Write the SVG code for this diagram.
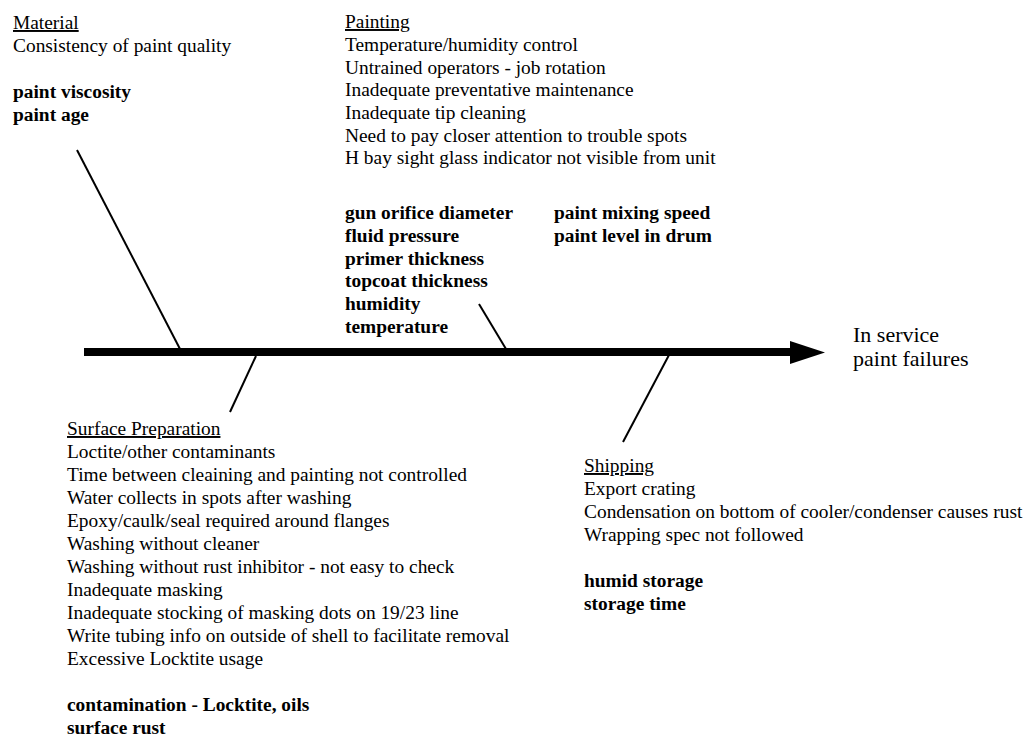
<svg xmlns="http://www.w3.org/2000/svg" width="1026" height="746" viewBox="0 0 1026 746">
<style>
text{font-family:"Liberation Serif","Times New Roman",serif;font-size:19.4px;fill:#000}
.h{text-decoration:underline}
.b{font-weight:bold}
.eff{font-size:22px}
.bone{stroke:#000;stroke-width:2;fill:none}
</style>
<rect width="1026" height="746" fill="#fff"/>
<g id="connectors">
<line x1="84" y1="352" x2="792" y2="352" stroke="#000" stroke-width="8"/>
<polygon points="790,341 825,352.5 790,364" fill="#000"/>
<line class="bone" x1="77" y1="150" x2="180" y2="349"/>
<line class="bone" x1="479" y1="304" x2="506" y2="349"/>
<line class="bone" x1="256" y1="356" x2="230" y2="412"/>
<line class="bone" x1="669" y1="355" x2="623" y2="442"/>
</g>
<g id="material">
<text class="h" x="13" y="29">Material</text>
<text x="13" y="52">Consistency of paint quality</text>
<text class="b" x="13" y="98">paint viscosity</text>
<text class="b" x="13" y="121">paint age</text>
</g>
<g id="painting">
<text class="h" x="345" y="28">Painting</text>
<text x="345" y="51">Temperature/humidity control</text>
<text x="345" y="74">Untrained operators - job rotation</text>
<text x="345" y="96">Inadequate preventative maintenance</text>
<text x="345" y="119">Inadequate tip cleaning</text>
<text x="345" y="142">Need to pay closer attention to trouble spots</text>
<text x="345" y="164">H bay sight glass indicator not visible from unit</text>
<text class="b" x="345" y="219">gun orifice diameter</text>
<text class="b" x="345" y="242">fluid pressure</text>
<text class="b" x="345" y="265">primer thickness</text>
<text class="b" x="345" y="287">topcoat thickness</text>
<text class="b" x="345" y="310">humidity</text>
<text class="b" x="345" y="333">temperature</text>
<text class="b" x="554" y="219">paint mixing speed</text>
<text class="b" x="554" y="242">paint level in drum</text>
</g>
<g id="effect">
<text class="eff" x="853" y="342">In service</text>
<text class="eff" x="853" y="366">paint failures</text>
</g>
<g id="surface-preparation">
<text class="h" x="67" y="435">Surface Preparation</text>
<text x="67" y="458">Loctite/other contaminants</text>
<text x="67" y="481">Time between cleaining and painting not controlled</text>
<text x="67" y="504">Water collects in spots after washing</text>
<text x="67" y="527">Epoxy/caulk/seal required around flanges</text>
<text x="67" y="550">Washing without cleaner</text>
<text x="67" y="573">Washing without rust inhibitor - not easy to check</text>
<text x="67" y="596">Inadequate masking</text>
<text x="67" y="619">Inadequate stocking of masking dots on 19/23 line</text>
<text x="67" y="642">Write tubing info on outside of shell to facilitate removal</text>
<text x="67" y="665">Excessive Locktite usage</text>
<text class="b" x="67" y="711">contamination - Locktite, oils</text>
<text class="b" x="67" y="734">surface rust</text>
</g>
<g id="shipping">
<text class="h" x="584" y="472">Shipping</text>
<text x="584" y="495">Export crating</text>
<text x="584" y="518">Condensation on bottom of cooler/condenser causes rust</text>
<text x="584" y="541">Wrapping spec not followed</text>
<text class="b" x="584" y="587">humid storage</text>
<text class="b" x="584" y="610">storage time</text>
</g>
</svg>
